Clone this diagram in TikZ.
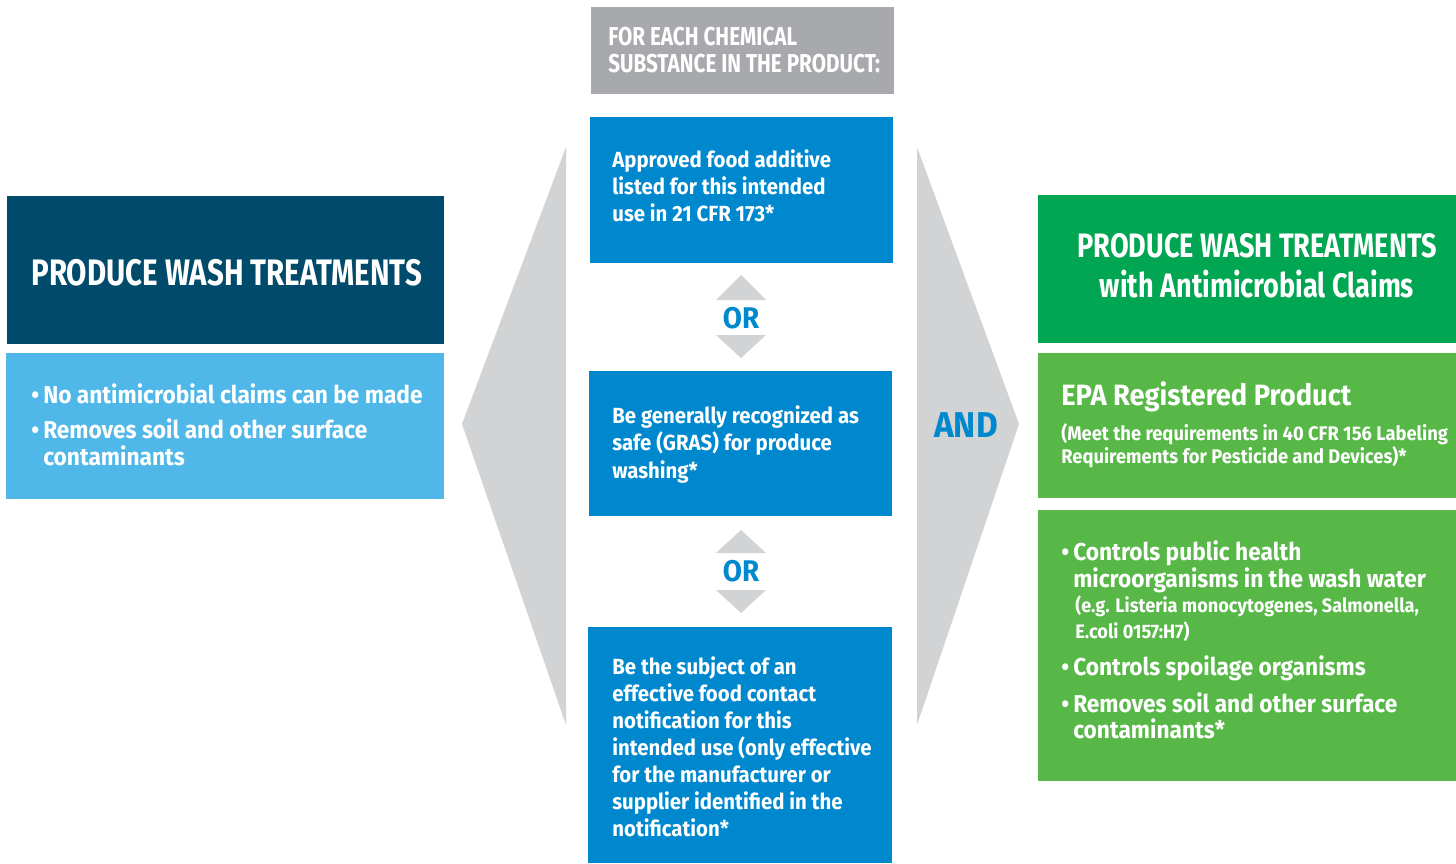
\documentclass[tikz,border=0pt]{standalone}
\usepackage{fontspec}
\setmainfont{Fira Sans}[FakeStretch=0.93]
\newfontfamily\capsfont{Fira Sans}[FakeStretch=0.8]
\definecolor{topgray}{HTML}{A7A9AC}
\definecolor{mblue}{HTML}{0088CF}
\definecolor{navy}{HTML}{004B6B}
\definecolor{lblue}{HTML}{50B8E8}
\definecolor{dgreen}{HTML}{00A651}
\definecolor{mgreen}{HTML}{57B847}
\definecolor{agray}{HTML}{D1D3D4}
\newcommand{\fsz}[2]{\fontsize{#1\dimexpr0.5669pt\relax}{#2\dimexpr0.5669pt\relax}\selectfont}
\tikzset{
  boxnode/.style={anchor=north west, inner sep=0pt, outer sep=0pt},
  txt/.style={anchor=base west, inner sep=0pt, align=left, text=white, font=\bfseries},
}
\begin{document}
\begin{tikzpicture}[x=0.02cm, y=-0.02cm]
\useasboundingbox (0,0) rectangle (1456,863);
% big gray arrows
\fill[agray] (566,147) -- (462,424) -- (566,725) -- cycle;
\fill[agray] (917,147) -- (1019,424) -- (917,725) -- cycle;
% boxes
\node[boxnode, fill=topgray, minimum width=303*0.02cm, minimum height=87*0.02cm] (top) at (591,7) {};
\node[boxnode, fill=mblue, minimum width=303*0.02cm, minimum height=146*0.02cm] (b1) at (590,117) {};
\node[boxnode, fill=mblue, minimum width=303*0.02cm, minimum height=145*0.02cm] (b2) at (589,371) {};
\node[boxnode, fill=mblue, minimum width=304*0.02cm, minimum height=236*0.02cm] (b3) at (588,627) {};
\node[boxnode, fill=navy, minimum width=437*0.02cm, minimum height=148*0.02cm] (l1) at (7,196) {};
\node[boxnode, fill=lblue, minimum width=438*0.02cm, minimum height=146*0.02cm] (l2) at (6,353) {};
\node[boxnode, fill=dgreen, minimum width=418*0.02cm, minimum height=148*0.02cm] (r1) at (1038,195) {};
\node[boxnode, fill=mgreen, minimum width=418*0.02cm, minimum height=145*0.02cm] (r2) at (1038,353) {};
\node[boxnode, fill=mgreen, minimum width=418*0.02cm, minimum height=271*0.02cm] (r3) at (1038,510) {};
% OR arrows
\fill[agray] (716,300) -- (741,275) -- (766,300) -- cycle;
\fill[agray] (716,335) -- (741,358) -- (766,335) -- cycle;
\fill[agray] (716,553) -- (741,530) -- (766,553) -- cycle;
\fill[agray] (716,590) -- (741,613) -- (766,590) -- cycle;
\node[anchor=center, inner sep=0pt, text=mblue, font=\bfseries\fsz{30}{30}] (or1) at (741,318) {OR};
\node[anchor=center, inner sep=0pt, text=mblue, font=\bfseries\fsz{36}{36}] (and) at (966,425) {AND};
\node[anchor=center, inner sep=0pt, text=mblue, font=\bfseries\fsz{30}{30}] (or2) at (741,571) {OR};
% texts (anchor = baseline of last line)
\node[txt, font=\capsfont\bfseries\fsz{26}{27}] (ttop) at (608,72) {FOR EACH CHEMICAL\\SUBSTANCE IN THE PRODUCT:};
\node[txt, font=\bfseries\fsz{22}{27}] (tb1) at (612,221) {Approved food additive\\listed for this intended\\use in 21 CFR 173*};
\node[txt, font=\bfseries\fsz{22}{27.5}] (tb2) at (612,478) {Be generally recognized as\\safe (GRAS) for produce\\washing*};
\node[txt, font=\bfseries\fsz{22}{27}] (tb3) at (612,836) {Be the subject of an\\effective food contact\\notification for this\\intended use (only effective\\for the manufacturer or\\supplier identified in the\\notification*};
\node[txt, font=\capsfont\bfseries\fsz{37}{37}] (tl1) at (31,285) {PRODUCE WASH TREATMENTS};
\node[txt, font=\bfseries\fsz{24.5}{27}] (tl2) at (31,403) {\textbullet\,No antimicrobial claims can be made};
\node[txt, font=\bfseries\fsz{24.5}{27}] (tl3) at (31,465) {\textbullet\,Removes soil and other surface\\\hphantom{\textbullet\,}contaminants};
\node[anchor=base, inner sep=0pt, align=center, text=white, font=\capsfont\bfseries\fsz{34}{40}] (tr1) at (1257,297) {PRODUCE WASH TREATMENTS\\with Antimicrobial Claims};
\node[txt, font=\bfseries\fsz{29.5}{30}] (tr2) at (1061,405) {EPA Registered Product};
\node[txt, font=\bfseries\fsz{19.8}{23}] (tr3) at (1061,463) {(Meet the requirements in 40 CFR 156 Labeling\\Requirements for Pesticide and Devices)*};
\node[txt, font=\bfseries\fsz{24.5}{27}] (tr4) at (1061,587) {\textbullet\,Controls public health\\\hphantom{\textbullet\,}microorganisms in the wash water};
\node[txt, font=\bfseries\fsz{19.6}{26}] (tr5) at (1075,638) {(e.g. Listeria monocytogenes, Salmonella,\\E.coli 0157:H7)};
\node[txt, font=\bfseries\fsz{24.5}{27}] (tr6) at (1061,675) {\textbullet\,Controls spoilage organisms};
\node[txt, font=\bfseries\fsz{24.5}{26}] (tr7) at (1061,738) {\textbullet\,Removes soil and other surface\\\hphantom{\textbullet\,}contaminants*};
\end{tikzpicture}
\end{document}
